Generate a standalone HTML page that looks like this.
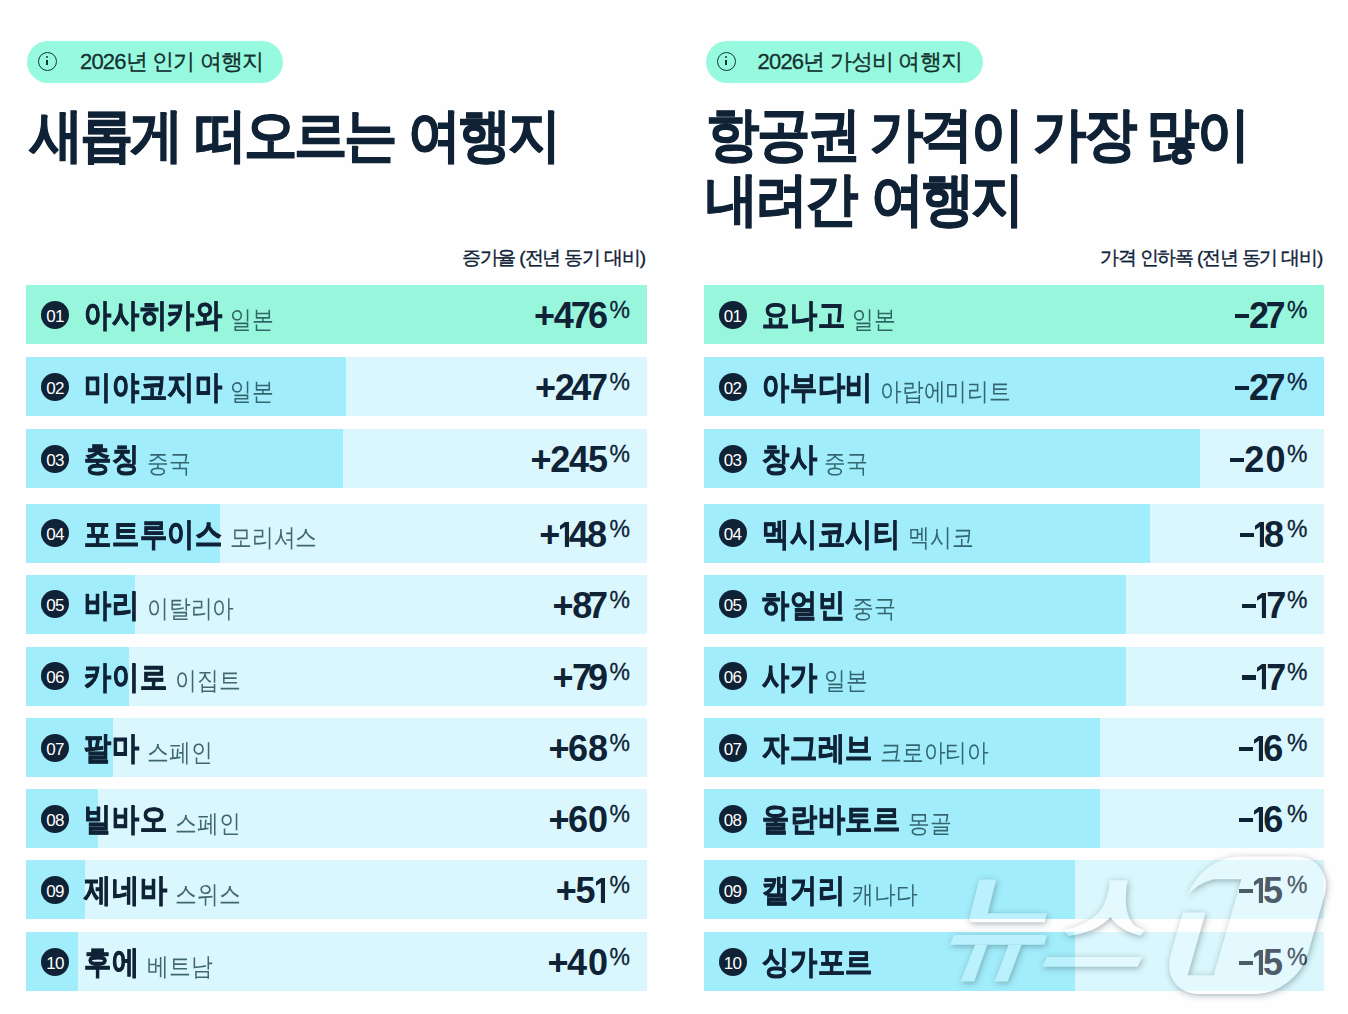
<!DOCTYPE html>
<html><head><meta charset="utf-8">
<style>
html,body{margin:0;padding:0;}
body{width:1348px;height:1014px;overflow:hidden;background:#fefefe;position:relative;font-family:"Liberation Sans",sans-serif;color:#0f2236;}
.badge{position:absolute;top:40.5px;height:42.5px;border-radius:21.25px;background:#97f9de;}
.badge .ic{position:absolute;left:11.7px;top:11.3px;width:19px;height:19px;border:1.7px solid #0b3a33;border-radius:50%;box-sizing:border-box;}
.badge .ic:before{content:"";position:absolute;left:6.8px;top:3px;width:2px;height:2px;border-radius:1px;background:#0b3a33;}
.badge .ic:after{content:"";position:absolute;left:6.8px;top:7px;width:2px;height:5.3px;background:#0b3a33;}
.badge .bt{position:absolute;top:0.5px;line-height:42.5px;font-size:22px;color:#14302f;white-space:nowrap;-webkit-text-stroke:0.3px #14302f;letter-spacing:0px;}
.title{position:absolute;transform:scaleX(0.92);transform-origin:0 0;font-size:58px;font-weight:bold;line-height:64.7px;white-space:nowrap;color:#0f2236;-webkit-text-stroke:0.8px #0f2236;}
.sub{position:absolute;top:245px;font-size:19px;line-height:26px;white-space:nowrap;color:#0f2236;-webkit-text-stroke:0.35px #0f2236;}
.row{position:absolute;height:59px;background:#d9f7fc;overflow:hidden;}
.row .bar{position:absolute;left:0;top:0;height:100%;background:#a2edfb;}
.row .mint{position:absolute;left:0;top:0;height:100%;width:100%;background:#98f6dd;}
.row .num{position:absolute;left:15px;top:15.5px;width:28px;height:28px;border-radius:50%;background:#0f2236;color:#fff;font-size:17px;line-height:31.6px;text-align:center;letter-spacing:-0.7px;text-indent:-0.6px;}
.row .city{position:absolute;left:58px;top:1px;line-height:59px;font-size:32px;font-weight:bold;white-space:nowrap;color:#0f2236;letter-spacing:0.7px;-webkit-text-stroke:0.8px #0f2236;}
.row .cn{display:inline-block;transform:scaleX(0.85);transform-origin:0 50%;}
.row .ctry{display:inline-block;transform:scaleX(0.87);transform-origin:0 50%;font-size:24.5px;font-weight:normal;color:rgba(15,58,66,0.76);-webkit-text-stroke:0;margin-left:7px;letter-spacing:0px;position:relative;top:1.5px;}
.row .pct{position:absolute;right:17px;top:1px;line-height:59px;font-size:36px;font-weight:bold;white-space:nowrap;color:#0f2236;letter-spacing:-2.7px;}
.row .one{display:inline-block;vertical-align:baseline;fill:#0f2236;}
.row .plus{margin-right:1.3px;}
.row .minus{display:inline-block;width:14px;height:4.2px;background:#0f2236;vertical-align:baseline;position:relative;top:-10px;margin-right:0.20000000000000007px;}
.row .ps{font-size:23px;font-weight:normal;position:relative;top:-10px;margin-left:4.2px;letter-spacing:0;-webkit-text-stroke:0.3px #0f2236;}
</style></head><body>
<div class="badge" style="left:26.8px;width:256px"><div class="ic"></div><div class="bt" style="left:53.2px;letter-spacing:-0.82px">2026년 인기 여행지</div></div>
<div class="badge" style="left:705.6px;width:277px"><div class="ic"></div><div class="bt" style="left:52px;letter-spacing:-0.83px">2026년 가성비 여행지</div></div>
<div class="title" style="left:29.9px;top:103px;letter-spacing:-3.62px;word-spacing:2.59px">새롭게 떠오르는 여행지</div>
<div class="title" style="left:705.76px;top:102px;letter-spacing:-2.73px;word-spacing:-1.34px">항공권 가격이 가장 많이</div>
<div class="title" style="left:705.22px;top:166.7px;letter-spacing:-3.56px;word-spacing:4.62px">내려간 여행지</div>
<div class="sub" style="right:703px;letter-spacing:-1.16px">증가율 (전년 동기 대비)</div>
<div class="sub" style="right:26px;letter-spacing:-1.22px">가격 인하폭 (전년 동기 대비)</div>
<div class="row" style="left:26.3px;top:285.2px;width:620.6px"><div class="mint"></div><div class="num">01</div><div class="city"><span class="cn" style="margin-right:-24.53px">아사히카와</span><span class="ctry" style="margin-right:-6.37px">일본</span></div><div class="pct"><span class="plus">+</span><span style="letter-spacing:-2.90px">4</span><span style="letter-spacing:-2.90px">7</span><span style="letter-spacing:-2.70px">6</span><span class="ps" style="margin-left:4.20px">%</span></div></div>
<div class="row" style="left:26.3px;top:357.3px;width:620.6px"><div class="bar" style="width:319.3px"></div><div class="num">02</div><div class="city"><span class="cn" style="margin-right:-24.53px">미야코지마</span><span class="ctry" style="margin-right:-6.37px">일본</span></div><div class="pct"><span class="plus">+</span><span style="letter-spacing:-3.40px">2</span><span style="letter-spacing:-3.40px">4</span><span style="letter-spacing:-2.70px">7</span><span class="ps" style="margin-left:4.20px">%</span></div></div>
<div class="row" style="left:26.3px;top:429.2px;width:620.6px"><div class="bar" style="width:316.6px"></div><div class="num">03</div><div class="city"><span class="cn" style="margin-right:-9.81px">충칭</span><span class="ctry" style="margin-right:-6.37px">중국</span></div><div class="pct"><span class="plus">+</span><span style="letter-spacing:-1.15px">2</span><span style="letter-spacing:-1.15px">4</span><span style="letter-spacing:-2.70px">5</span><span class="ps" style="margin-left:4.20px">%</span></div></div>
<div class="row" style="left:26.3px;top:503.8px;width:620.6px"><div class="bar" style="width:193.8px"></div><div class="num">04</div><div class="city"><span class="cn" style="margin-right:-24.53px">포트루이스</span><span class="ctry" style="margin-right:-12.74px">모리셔스</span></div><div class="pct"><span class="plus">+</span><svg class="one" style="margin-left:0.90px;margin-right:-0.10px" width="9.1" height="25.3" viewBox="0 0 9.1 25.3"><path d="M4.9,0H9.1V25.3H4.9V4.7L0,7.8V3.8Z"/></svg><span style="letter-spacing:-1.75px">4</span><span style="letter-spacing:-2.70px">8</span><span class="ps" style="margin-left:5.15px">%</span></div></div>
<div class="row" style="left:26.3px;top:574.8px;width:620.6px"><div class="bar" style="width:108.7px"></div><div class="num">05</div><div class="city"><span class="cn" style="margin-right:-9.81px">바리</span><span class="ctry" style="margin-right:-12.74px">이탈리아</span></div><div class="pct"><span class="plus">+</span><span style="letter-spacing:-4.30px">8</span><span style="letter-spacing:-2.70px">7</span><span class="ps" style="margin-left:4.20px">%</span></div></div>
<div class="row" style="left:26.3px;top:646.5px;width:620.6px"><div class="bar" style="width:103.2px"></div><div class="num">06</div><div class="city"><span class="cn" style="margin-right:-14.72px">카이로</span><span class="ctry" style="margin-right:-9.55px">이집트</span></div><div class="pct"><span class="plus">+</span><span style="letter-spacing:-4.10px">7</span><span style="letter-spacing:-2.70px">9</span><span class="ps" style="margin-left:4.20px">%</span></div></div>
<div class="row" style="left:26.3px;top:718.0px;width:620.6px"><div class="bar" style="width:86.7px"></div><div class="num">07</div><div class="city"><span class="cn" style="margin-right:-9.81px">팔마</span><span class="ctry" style="margin-right:-9.55px">스페인</span></div><div class="pct"><span class="plus">+</span><span style="letter-spacing:-0.10px">6</span><span style="letter-spacing:-2.70px">8</span><span class="ps" style="margin-left:4.20px">%</span></div></div>
<div class="row" style="left:26.3px;top:789.2px;width:620.6px"><div class="bar" style="width:72.2px"></div><div class="num">08</div><div class="city"><span class="cn" style="margin-right:-14.72px">빌바오</span><span class="ctry" style="margin-right:-9.55px">스페인</span></div><div class="pct"><span class="plus">+</span><span style="letter-spacing:-0.10px">6</span><span style="letter-spacing:-2.70px">0</span><span class="ps" style="margin-left:4.20px">%</span></div></div>
<div class="row" style="left:26.3px;top:860.2px;width:620.6px"><div class="bar" style="width:58.5px"></div><div class="num">09</div><div class="city"><span class="cn" style="margin-right:-14.72px">제네바</span><span class="ctry" style="margin-right:-9.55px">스위스</span></div><div class="pct"><span class="plus">+</span><span style="letter-spacing:-3.10px">5</span><svg class="one" style="margin-left:3.70px;margin-right:0.50px" width="9.1" height="25.3" viewBox="0 0 9.1 25.3"><path d="M4.9,0H9.1V25.3H4.9V4.7L0,7.8V3.8Z"/></svg><span class="ps" style="margin-left:3.80px">%</span></div></div>
<div class="row" style="left:26.3px;top:932.1px;width:620.6px"><div class="bar" style="width:51.5px"></div><div class="num">10</div><div class="city"><span class="cn" style="margin-right:-9.81px">후에</span><span class="ctry" style="margin-right:-9.55px">베트남</span></div><div class="pct"><span class="plus">+</span><span style="letter-spacing:0.90px">4</span><span style="letter-spacing:-2.70px">0</span><span class="ps" style="margin-left:4.20px">%</span></div></div>
<div class="row" style="left:703.8px;top:285.2px;width:620.7px"><div class="mint"></div><div class="num">01</div><div class="city"><span class="cn" style="margin-right:-14.72px">요나고</span><span class="ctry" style="margin-right:-6.37px">일본</span></div><div class="pct"><span class="minus"></span><span style="letter-spacing:-3.50px">2</span><span style="letter-spacing:-2.70px">7</span><span class="ps" style="margin-left:4.20px">%</span></div></div>
<div class="row" style="left:703.8px;top:357.3px;width:620.7px"><div class="bar" style="width:620.7px"></div><div class="num">02</div><div class="city"><span class="cn" style="margin-right:-19.62px">아부다비</span><span class="ctry" style="margin-right:-19.11px">아랍에미리트</span></div><div class="pct"><span class="minus"></span><span style="letter-spacing:-3.50px">2</span><span style="letter-spacing:-2.70px">7</span><span class="ps" style="margin-left:4.20px">%</span></div></div>
<div class="row" style="left:703.8px;top:429.2px;width:620.7px"><div class="bar" style="width:496.2px"></div><div class="num">03</div><div class="city"><span class="cn" style="margin-right:-9.81px">창사</span><span class="ctry" style="margin-right:-6.37px">중국</span></div><div class="pct"><span class="minus"></span><span style="letter-spacing:1.20px">2</span><span style="letter-spacing:-2.70px">0</span><span class="ps" style="margin-left:4.20px">%</span></div></div>
<div class="row" style="left:703.8px;top:503.8px;width:620.7px"><div class="bar" style="width:446.2px"></div><div class="num">04</div><div class="city"><span class="cn" style="margin-right:-24.53px">멕시코시티</span><span class="ctry" style="margin-right:-9.55px">멕시코</span></div><div class="pct"><span class="minus"></span><svg class="one" style="margin-left:0.90px;margin-right:-0.10px" width="9.1" height="25.3" viewBox="0 0 9.1 25.3"><path d="M4.9,0H9.1V25.3H4.9V4.7L0,7.8V3.8Z"/></svg><span style="letter-spacing:-2.70px">8</span><span class="ps" style="margin-left:5.70px">%</span></div></div>
<div class="row" style="left:703.8px;top:574.8px;width:620.7px"><div class="bar" style="width:422.2px"></div><div class="num">05</div><div class="city"><span class="cn" style="margin-right:-14.72px">하얼빈</span><span class="ctry" style="margin-right:-6.37px">중국</span></div><div class="pct"><span class="minus"></span><svg class="one" style="margin-left:0.90px;margin-right:-0.10px" width="9.1" height="25.3" viewBox="0 0 9.1 25.3"><path d="M4.9,0H9.1V25.3H4.9V4.7L0,7.8V3.8Z"/></svg><span style="letter-spacing:-2.70px">7</span><span class="ps" style="margin-left:3.50px">%</span></div></div>
<div class="row" style="left:703.8px;top:646.5px;width:620.7px"><div class="bar" style="width:422.2px"></div><div class="num">06</div><div class="city"><span class="cn" style="margin-right:-9.81px">사가</span><span class="ctry" style="margin-right:-6.37px">일본</span></div><div class="pct"><span class="minus"></span><svg class="one" style="margin-left:0.90px;margin-right:-0.10px" width="9.1" height="25.3" viewBox="0 0 9.1 25.3"><path d="M4.9,0H9.1V25.3H4.9V4.7L0,7.8V3.8Z"/></svg><span style="letter-spacing:-2.70px">7</span><span class="ps" style="margin-left:3.50px">%</span></div></div>
<div class="row" style="left:703.8px;top:718.0px;width:620.7px"><div class="bar" style="width:396.7px"></div><div class="num">07</div><div class="city"><span class="cn" style="margin-right:-19.62px">자그레브</span><span class="ctry" style="margin-right:-15.93px">크로아티아</span></div><div class="pct"><span class="minus"></span><svg class="one" style="margin-left:0.90px;margin-right:-0.10px" width="9.1" height="25.3" viewBox="0 0 9.1 25.3"><path d="M4.9,0H9.1V25.3H4.9V4.7L0,7.8V3.8Z"/></svg><span style="letter-spacing:-2.70px">6</span><span class="ps" style="margin-left:6.50px">%</span></div></div>
<div class="row" style="left:703.8px;top:789.2px;width:620.7px"><div class="bar" style="width:396.7px"></div><div class="num">08</div><div class="city"><span class="cn" style="margin-right:-24.53px">울란바토르</span><span class="ctry" style="margin-right:-6.37px">몽골</span></div><div class="pct"><span class="minus"></span><svg class="one" style="margin-left:0.90px;margin-right:-0.10px" width="9.1" height="25.3" viewBox="0 0 9.1 25.3"><path d="M4.9,0H9.1V25.3H4.9V4.7L0,7.8V3.8Z"/></svg><span style="letter-spacing:-2.70px">6</span><span class="ps" style="margin-left:6.50px">%</span></div></div>
<div class="row" style="left:703.8px;top:860.2px;width:620.7px"><div class="bar" style="width:371.7px"></div><div class="num">09</div><div class="city"><span class="cn" style="margin-right:-14.72px">캘거리</span><span class="ctry" style="margin-right:-9.55px">캐나다</span></div><div class="pct"><span class="minus"></span><svg class="one" style="margin-left:0.90px;margin-right:-0.10px" width="9.1" height="25.3" viewBox="0 0 9.1 25.3"><path d="M4.9,0H9.1V25.3H4.9V4.7L0,7.8V3.8Z"/></svg><span style="letter-spacing:-2.70px">5</span><span class="ps" style="margin-left:6.80px">%</span></div></div>
<div class="row" style="left:703.8px;top:932.1px;width:620.7px"><div class="bar" style="width:371.7px"></div><div class="num">10</div><div class="city"><span class="cn" style="margin-right:-19.62px">싱가포르</span></div><div class="pct"><span class="minus"></span><svg class="one" style="margin-left:0.90px;margin-right:-0.10px" width="9.1" height="25.3" viewBox="0 0 9.1 25.3"><path d="M4.9,0H9.1V25.3H4.9V4.7L0,7.8V3.8Z"/></svg><span style="letter-spacing:-2.70px">5</span><span class="ps" style="margin-left:6.80px">%</span></div></div>
<svg width="1348" height="1014" style="position:absolute;left:0;top:0">
<defs>
<filter id="bl" x="-30%" y="-30%" width="160%" height="160%"><feGaussianBlur stdDeviation="3"/></filter>
<mask id="m1" maskUnits="userSpaceOnUse" x="0" y="0" width="1348" height="1014"><rect x="1100" y="800" width="248" height="214" fill="#fff"/><path d="M1150,895.5 L1187.7,895.5 Q1196,884 1213.7,879.2 L1241.4,879.2 L1213.7,975.2 L1187.7,975.2 L1205.6,912.5 L1150,912.5 Z" fill="#000"/></mask>
<g id="wm">
<path d="M979.2,879.4 L996.3,879.4 L987.8,913.3 L1046.9,913.3 L1044.5,922.3 L974,922.3 Q968.5,922.3 969.6,917.5 Z"/>
<path d="M953.9,934.9 L1046.9,934.9 L1044.5,944.7 L949.8,944.7 Z"/>
<path d="M975.1,944.7 L987.3,944.7 L974.3,981.4 L960.4,981.4 Z"/>
<path d="M1008.5,944.7 L1021.6,944.7 L1007.7,981.4 L994.7,981.4 Z"/>
<path d="M1109.7,880.2 L1127.7,880.2 C1125,895 1124,912 1132.6,923.4 C1136,927 1141,929 1144.8,930 L1140.7,935.7 C1128,933 1116,926 1110.6,916.9 C1100,928 1085,934 1068.9,935.7 L1063.2,930 C1085,926 1100,915 1105,902 C1108,895 1109,888 1109.7,880.2 Z"/>
<path d="M1046.9,956.9 L1142.4,956.9 L1137.5,966.7 L1042,966.7 Z"/>
<g mask="url(#m1)"><rect x="-68.5" y="-68.75" width="137" height="137.5" rx="40" ry="40" transform="translate(1247.5,925.2) skewX(-16)"/></g>
</g>
<mask id="inv" maskUnits="userSpaceOnUse" x="0" y="0" width="1348" height="1014"><rect x="0" y="0" width="1348" height="1014" fill="#fff"/><use href="#wm" fill="#000"/></mask>
</defs>
<g mask="url(#inv)"><g filter="url(#bl)" transform="translate(1,1.5)" fill="#3a5560" fill-opacity="0.45"><use href="#wm"/></g></g>
<use href="#wm" fill="#fff" fill-opacity="0.26"/>
</svg>
</body></html>
